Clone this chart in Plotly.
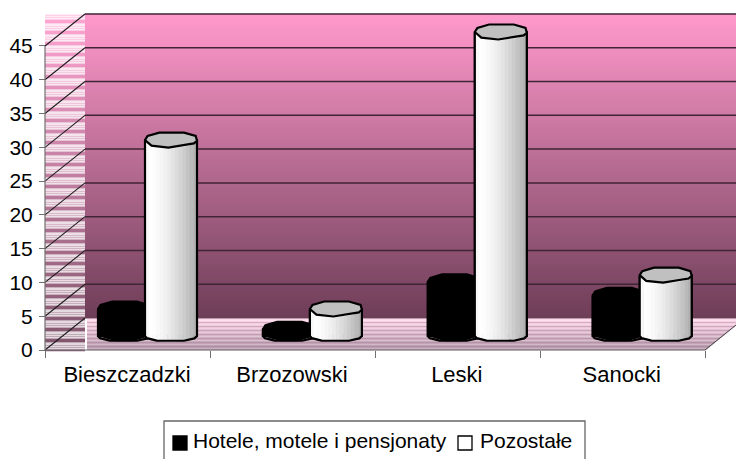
import math
import plotly.graph_objects as go

categories = ["Bieszczadzki", "Brzozowski", "Leski", "Sanocki"]
hotele = [4, 1, 8, 6]
pozostale = [29, 4, 45, 9]
y_ticks = [0, 5, 10, 15, 20, 25, 30, 35, 40, 45]
series_names = ["Hotele, motele i pensjonaty", "Pozostałe"]

W, H = 736, 459
PX_PER_UNIT = 6.756
CAT_STEP = 164.9
X_ZERO_PX, Y_ZERO_PX = 127, 350
FONT = "Liberation Sans, Arial, sans-serif"


def X(px):
    return (px - X_ZERO_PX) / CAT_STEP


def Y(py):
    return (Y_ZERO_PX - py) / PX_PER_UNIT


def mix(a, b, t):
    return tuple(a[i] + (b[i] - a[i]) * t for i in range(3))


def css(c):
    return "rgb(%d,%d,%d)" % tuple(round(v) for v in c)


def wall(py):
    return mix((255, 153, 204), (109, 61, 87), (py - 14) / 304)


shapes = []


def rect(x0, x1, y0, y1, color):
    shapes.append(dict(type="rect", layer="below", x0=X(x0), x1=X(x1), y0=Y(y0), y1=Y(y1),
                       fillcolor=color, line=dict(width=0)))


def line(x0, y0, x1, y1, color, width=1.0):
    shapes.append(dict(type="line", layer="below", x0=X(x0), x1=X(x1), y0=Y(y0), y1=Y(y1),
                       line=dict(color=color, width=width)))


# back wall gradient
for py in range(14, 318, 2):
    rect(85, W, py, py + 2.6, css(wall(py)))

# side wall, hatched
for py in range(14, 351):
    base = wall(14 + (py - 14) * 304 / 336)
    k = (py - 14) % 11
    if k in (6, 7, 8):
        t = 0.12
    elif k % 2 == 0:
        t = 0.8
    else:
        t = 0.55
    rect(45, 85, py, py + 1.2, css(mix(base, (255, 255, 255), t)))

# floor, hatched
FLOOR_BACK = 319
for py in range(FLOOR_BACK, 350):
    f = (py - FLOOR_BACK) / 31
    base = mix((255, 214, 234), (178, 150, 168), f)
    if (py - FLOOR_BACK) % 4 == 3:
        base = mix(base, (150, 110, 135), 0.35)
    elif (py - FLOOR_BACK) % 2 == 1:
        base = mix(base, (255, 255, 255), 0.25)
    right = min(W, 705 + (350 - py) * 40 / 32)
    rect(87, right, py, py + 1.2, css(base))
line(86, 319, 86, 350, "#ffffff", 1.5)

# gridlines: diagonal on the side wall, horizontal on the back wall
for v in y_ticks:
    py = Y_ZERO_PX - v * PX_PER_UNIT
    line(45, py, 85, py - 32, "#1a1a1a", 1.1)
    if v > 0:
        line(85, py - 32, W, py - 32, "#3f2535", 1.5)
# axes
line(45, 46, 45, 350, "#707070", 1.2)
line(45, 350, 705, 350, "#707070", 1.2)
line(705, 350, 736, 325, "#404040", 1.0)

# legend box and keys
shapes.append(dict(type="rect", xref="paper", yref="paper", layer="below",
                   x0=164 / W, x1=585 / W, y0=-0.02, y1=(H - 421) / H,
                   fillcolor="#ffffff", line=dict(color="#666666", width=1.3)))
LEGEND_KEYS = [(173, "#000000"), (458, "#ffffff")]
LEGEND_TEXT_X = [193, 480]
annotations = []
for (kx, col), tx, label in zip(LEGEND_KEYS, LEGEND_TEXT_X, series_names):
    shapes.append(dict(type="rect", xref="paper", yref="paper", layer="above",
                       x0=kx / W, x1=(kx + 14) / W, y0=(H - 450) / H, y1=(H - 436) / H,
                       fillcolor=col, line=dict(color="#000000", width=1.3)))
    annotations.append(dict(text=label, xref="paper", yref="paper", x=tx / W, y=(H - 440) / H,
                            xanchor="left", yanchor="middle", showarrow=False, xshift=-2,
                            font=dict(family=FONT, size=21, color="#000000")))

CYL_W = 52
HALF_CAP = 7.5
HALF_BOTTOM = 5.5
DEPTH_PX = 14
BASE = DEPTH_PX / PX_PER_UNIT
OFFSETS = [-3, 44]
STRIPS = 14


def shade(t):
    if t < 0.1:
        return mix((244, 244, 244), (255, 255, 255), t / 0.1)
    return mix((255, 255, 255), (172, 172, 172), ((t - 0.1) / 0.9) ** 1.5)


fig = go.Figure()
for name, vals, color, off in ((series_names[0], hotele, "#000000", OFFSETS[0]),
                               (series_names[1], pozostale, "#ffffff", OFFSETS[1])):
    fig.add_trace(go.Bar(name=name, x=list(range(len(categories))), y=vals, base=BASE,
                         width=CYL_W / CAT_STEP, offset=(off - CYL_W / 2) / CAT_STEP,
                         marker=dict(color=color, line=dict(color="#000000", width=2)),
                         showlegend=False))


def front_arc(cx, cy, x0, x1, half, steps=3):
    """points on the front half of an ellipse between two px offsets"""
    pts = []
    r = CYL_W / 2
    for s in range(steps + 1):
        dx = x0 + (x1 - x0) * s / steps
        pts.append((cx + dx, cy + half * math.sqrt(max(0.0, 1 - (dx / r) ** 2))))
    return pts


for s_idx, (vals, is_black) in enumerate(((hotele, True), (pozostale, False))):
    offset = OFFSETS[s_idx]
    r = CYL_W / 2
    centers = [X_ZERO_PX + i * CAT_STEP + offset for i in range(len(vals))]
    tops = [Y_ZERO_PX - (v + BASE) * PX_PER_UNIT for v in vals]
    bottom = Y_ZERO_PX - DEPTH_PX
    n = 1 if is_black else STRIPS
    for k in range(n):
        xs, ys = [], []
        a, b = -r + 2 * r * k / n, -r + 2 * r * (k + 1) / n + (0.5 if k < n - 1 else 0)
        b = min(b, r)
        for cx, top in zip(centers, tops):
            upper = front_arc(cx, top, a, b, HALF_CAP)
            lower = front_arc(cx, bottom, b, a, HALF_BOTTOM)
            pts = upper + lower + upper[:1]
            xs += [X(p[0]) for p in pts] + [None]
            ys += [Y(p[1]) for p in pts] + [None]
        col = "#000000" if is_black else css(shade((k + 0.5) / n))
        fig.add_trace(go.Scatter(x=xs, y=ys, mode="lines", fill="toself", fillcolor=col,
                                 line=dict(width=0, color=col), showlegend=False, hoverinfo="skip"))
    # outline + caps
    oxs, oys, cxs, cys = [], [], [], []
    for cx, top in zip(centers, tops):
        out = [(cx - r, top)] + [(cx + d * r, bottom + HALF_BOTTOM * math.sqrt(1 - d * d))
                                 for d in (-1, -0.92, -0.55, 0.5, 0.9, 1)] + [(cx + r, top)]
        oxs += [X(p[0]) for p in out] + [None]
        oys += [Y(p[1]) for p in out] + [None]
        for dx, dy in ((-1, 0), (-0.9, -0.55), (-0.45, -1), (0.5, -1), (0.95, -0.55), (1, 0.1),
                       (0.88, 0.45), (-0.1, 1), (-0.75, 0.75), (-1, 0)):
            cxs.append(X(cx + r * dx))
            cys.append(Y(top + HALF_CAP * dy))
        cxs.append(None)
        cys.append(None)
    fig.add_trace(go.Scatter(x=oxs, y=oys, mode="lines", line=dict(color="#000000", width=2.2),
                             showlegend=False, hoverinfo="skip"))
    cap = "#000000" if is_black else "#c0c0c0"
    fig.add_trace(go.Scatter(x=cxs, y=cys, mode="lines", fill="toself", fillcolor=cap,
                             line=dict(color="#000000", width=2.2), showlegend=False, hoverinfo="skip"))

fig.update_layout(
    width=W, height=H, margin=dict(l=0, r=0, t=0, b=0),
    paper_bgcolor="#ffffff", plot_bgcolor="rgba(0,0,0,0)",
    barmode="overlay", hovermode=False, showlegend=False, shapes=shapes, annotations=annotations,
    font=dict(family=FONT, size=21, color="#000000"),
    xaxis=dict(domain=[0, 1], range=[X(0), X(W)], anchor="free", position=(H - Y_ZERO_PX) / H,
               tickmode="array", tickvals=list(range(len(categories))), ticktext=categories,
               tickfont=dict(size=22), ticks="", showgrid=False, zeroline=False, showline=False,
               ticklabelstandoff=9,
               minor=dict(tickmode="array",
                          tickvals=[X(45 + i * 165) for i in range(5)],
                          ticks="outside", ticklen=7, tickcolor="#707070", tickwidth=1.2, showgrid=False)),
    yaxis=dict(domain=[0, 1], range=[Y(H), Y(0)], anchor="free", position=45 / W, side="left",
               tickmode="array", tickvals=y_ticks, ticks="outside", ticklen=6, tickcolor="#707070",
               tickwidth=1.2, showgrid=False, zeroline=False, showline=False, ticklabelstandoff=2),
)
fig.write_html("out.html", post_script="document.body.style.margin='0';", config=dict(displayModeBar=False))
